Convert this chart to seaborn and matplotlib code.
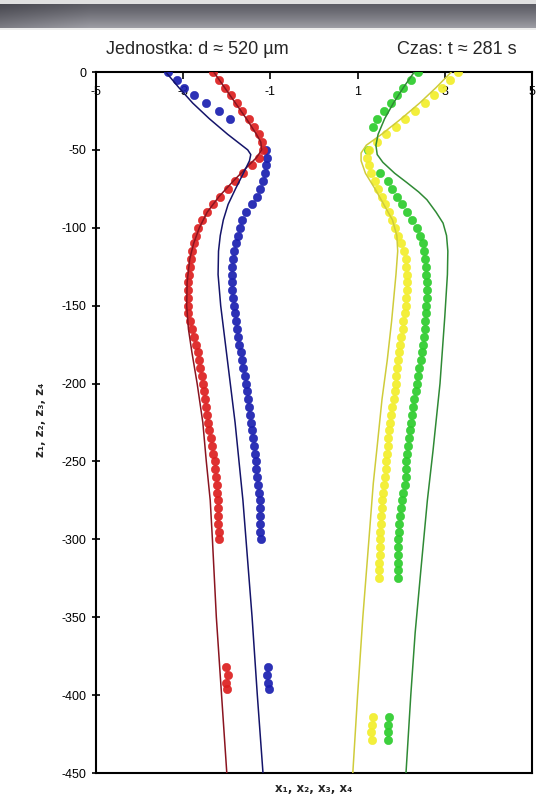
import numpy as np
import pandas as pd
import matplotlib
matplotlib.use("Agg")
import matplotlib.pyplot as plt
import seaborn as sns

nan = np.nan

# measured depths for the x1 / x2 profiles
depth_rb = [0, -5, -10, -15, -20, -25, -30, -35, -40, -45, -50, -55, -60, -65, -70,
            -75, -80, -85, -90, -95, -100, -105, -110, -115, -120, -125, -130, -135,
            -140, -145, -150, -155, -160, -165, -170, -175, -180, -185, -190, -195,
            -200, -205, -210, -215, -220, -225, -230, -235, -240, -245, -250, -255,
            -260, -265, -270, -275, -280, -285, -290, -295, -300,
            -382, -387, -392, -396]

x1_meas = [-2.32, -2.19, -2.05, -1.91, -1.77, -1.64, -1.50, -1.37, -1.27, -1.20, -1.17,
           -1.26, -1.43, -1.63, -1.81, -1.98, -2.15, -2.31, -2.46, -2.58, -2.66, -2.71,
           -2.75, -2.79, -2.82, -2.84, -2.87, -2.88, -2.90, -2.90, -2.89, -2.88, -2.84,
           -2.79, -2.75, -2.71, -2.67, -2.64, -2.61, -2.58, -2.55, -2.53, -2.50, -2.47,
           -2.45, -2.42, -2.40, -2.37, -2.34, -2.31, -2.28, -2.26, -2.24, -2.23, -2.22,
           -2.21, -2.21, -2.20, -2.20, -2.19, -2.19,
           -2.02, -1.98, -2.01, -1.99]

x2_meas = [-3.35, -3.15, -2.98, -2.76, -2.47, -2.19, -1.93, nan, nan, nan, -1.10,
           -1.07, -1.09, -1.12, -1.17, -1.23, -1.30, -1.42, -1.55, -1.64, -1.70, -1.74,
           -1.79, -1.83, -1.85, -1.87, -1.88, -1.88, -1.87, -1.85, -1.83, -1.81, -1.79,
           -1.77, -1.74, -1.71, -1.68, -1.65, -1.62, -1.59, -1.56, -1.53, -1.51, -1.49,
           -1.46, -1.44, -1.42, -1.40, -1.38, -1.36, -1.34, -1.32, -1.30, -1.28, -1.26,
           -1.25, -1.24, -1.24, -1.23, -1.23, -1.22,
           -1.05, -1.07, -1.06, -1.04]

# measured depths for the x3 / x4 profiles
depth_yg = [0, -5, -10, -15, -20, -25, -30, -35, -40, -45, -50, -55, -60, -65, -70,
            -75, -80, -85, -90, -95, -100, -105, -110, -115, -120, -125, -130, -135,
            -140, -145, -150, -155, -160, -165, -170, -175, -180, -185, -190, -195,
            -200, -205, -210, -215, -220, -225, -230, -235, -240, -245, -250, -255,
            -260, -265, -270, -275, -280, -285, -290, -295, -300, -305, -310, -315,
            -320, -325,
            -414, -419, -424, -429]

x3_meas = [3.30, 3.13, 2.94, 2.75, 2.55, 2.31, 2.08, 1.87, 1.66, 1.45, 1.27, 1.22, 1.25,
           1.31, 1.39, 1.47, 1.55, 1.63, 1.71, 1.79, 1.86, 1.93, 2.00, 2.06, 2.10, 2.12,
           2.13, 2.13, 2.13, 2.12, 2.11, 2.08, 2.05, 2.03, 2.00, 1.98, 1.96, 1.93, 1.91,
           1.89, 1.87, 1.85, 1.83, 1.80, 1.77, 1.74, 1.71, 1.70, 1.69, 1.67, 1.66, 1.64,
           1.62, 1.60, 1.58, 1.56, 1.55, 1.54, 1.53, 1.52, 1.52, 1.51, 1.51, 1.50, 1.50,
           1.50,
           1.35, 1.33, 1.31, 1.32]

x4_meas = [2.39, 2.22, 2.05, 1.91, 1.77, 1.60, 1.45, 1.35, nan, nan, 1.24, nan, nan,
           1.51, 1.69, 1.80, 1.91, 2.02, 2.13, 2.25, 2.36, 2.44, 2.50, 2.52, 2.55, 2.57,
           2.58, 2.59, 2.59, 2.59, 2.58, 2.57, 2.55, 2.54, 2.52, 2.51, 2.48, 2.45, 2.41,
           2.38, 2.36, 2.33, 2.30, 2.27, 2.25, 2.23, 2.21, 2.18, 2.16, 2.14, 2.12, 2.11,
           2.10, 2.08, 2.05, 2.02, 1.99, 1.97, 1.95, 1.94, 1.93, 1.93, 1.92, 1.93, 1.92,
           1.92,
           1.72, 1.70, 1.69, 1.70]

# model profiles
z1_model = [0, -10, -20, -30, -40, -45, -50, -55, -60, -70, -80, -90, -100, -110, -120,
            -135, -150, -165, -180, -200, -225, -250, -275, -300, -350, -400, -450]
x1_model = [-2.30, -2.05, -1.80, -1.55, -1.32, -1.22, -1.20, -1.32, -1.50, -1.85, -2.18,
            -2.45, -2.63, -2.76, -2.85, -2.91, -2.92, -2.88, -2.80, -2.68, -2.55, -2.47,
            -2.38, -2.33, -2.24, -2.12, -2.00]

z2_model = [0, -10, -20, -30, -40, -45, -50, -53, -57, -65, -75, -85, -95, -105, -115,
            -130, -150, -175, -200, -225, -250, -275, -300, -350, -400, -450]
x2_model = [-3.40, -3.10, -2.78, -2.40, -1.98, -1.75, -1.52, -1.45, -1.48, -1.62, -1.80,
            -1.97, -2.08, -2.15, -2.19, -2.20, -2.14, -2.03, -1.92, -1.81, -1.72, -1.63,
            -1.56, -1.42, -1.30, -1.17]

z3_model = [0, -10, -20, -30, -40, -47, -52, -57, -65, -75, -85, -95, -105, -115, -130,
            -160, -185, -210, -240, -264, -300, -350, -400, -450]
x3_model = [3.15, 2.80, 2.42, 2.00, 1.55, 1.20, 1.08, 1.08, 1.18, 1.40, 1.60, 1.80, 1.90,
            1.92, 1.88, 1.78, 1.68, 1.56, 1.45, 1.36, 1.26, 1.12, 1.00, 0.89]

z4_model = [0, -10, -20, -30, -40, -47, -53, -58, -65, -71, -77, -82, -90, -97, -105,
            -115, -130, -157, -200, -243, -275, -320, -360, -400, -450]
x4_model = [2.30, 2.05, 1.82, 1.62, 1.47, 1.42, 1.45, 1.58, 1.85, 2.13, 2.40, 2.59, 2.80,
            2.96, 3.04, 3.07, 3.06, 3.00, 2.89, 2.73, 2.60, 2.45, 2.32, 2.22, 2.11]

x_ticks = [-5, -3, -1, 1, 3, 5]
z_ticks = [0, -50, -100, -150, -200, -250, -300, -350, -400, -450]

title_left = "Jednostka: d ≈ 520 µm"
title_right = "Czas: t ≈ 281 s"
x_label = "x₁, x₂, x₃, x₄"
z_label = "z₁, z₂, z₃, z₄"

marker_colors = {"x1": "#dd1f1f", "x2": "#1a1fb0", "x3": "#f2ee2a", "x4": "#2ccc2c"}
line_colors = {"x1": "#8a1420", "x2": "#14146a", "x3": "#cfcc3a", "x4": "#2f8a35"}

sns.set_style("white")
plt.rcParams["font.family"] = ["Liberation Sans", "DejaVu Sans"]
plt.rcParams["axes.unicode_minus"] = False

W, H = 536, 800
fig = plt.figure(figsize=(W / 100, H / 100), dpi=100)
fig.patch.set_facecolor("white")

# dark gradient banner across the top
band_h = 30
rows = np.linspace(0, 1, band_h)[:, None]
cols = np.linspace(0, 1, W)[None, :]
base = 0.34 + 0.30 * rows ** 1.3
shade = base * (0.80 + 0.20 * np.clip(cols * 6, 0, 1))
img = np.repeat(shade[:, :, None], 3, axis=2)
img[..., 2] += 0.03
img[:4] = 0.88
img[-2:] = 0.93
banner = fig.add_axes([0, 1 - band_h / H, 1, band_h / H])
banner.imshow(np.clip(img, 0, 1), aspect="auto", interpolation="bilinear")
banner.axis("off")

ax = fig.add_axes([96 / W, 27 / H, 436 / W, 701 / H])

# measured profiles, blue first so red sits over it at the crossing
series = [("x2", x2_meas, depth_rb), ("x1", x1_meas, depth_rb),
          ("x4", x4_meas, depth_yg), ("x3", x3_meas, depth_yg)]
for name, xv, zv in series:
    df = pd.DataFrame({"x": xv, "z": zv}).dropna()
    sns.scatterplot(data=df, x="x", y="z", ax=ax, color=marker_colors[name],
                    s=36, marker="o", edgecolor=marker_colors[name], linewidth=0.4,
                    alpha=0.92, zorder=3, legend=False)

# model curves on top of the measured points
models = [("x1", x1_model, z1_model), ("x2", x2_model, z2_model),
          ("x3", x3_model, z3_model), ("x4", x4_model, z4_model)]
for name, xv, zv in models:
    df = pd.DataFrame({"x": xv, "z": zv})
    sns.lineplot(data=df, x="x", y="z", ax=ax, sort=False, estimator=None,
                 color=line_colors[name], linewidth=1.1, zorder=4, legend=False)

ax.set_xlim(-5, 5)
ax.set_ylim(-450, 0)
ax.set_xticks(x_ticks)
ax.set_xticklabels([str(t) for t in x_ticks])
ax.set_yticks(z_ticks)
ax.set_yticklabels([str(t) for t in z_ticks])
ax.xaxis.set_ticks_position("top")
ax.tick_params(axis="x", top=True, bottom=False, labeltop=True, labelbottom=False,
               direction="in", length=5, width=1.2, pad=-19, labelsize=9,
               colors="black")
ax.tick_params(axis="y", left=True, direction="inout", length=6, width=1.2, pad=4,
               labelsize=9, colors="black")
for sp in ax.spines.values():
    sp.set_visible(True)
    sp.set_color("black")
    sp.set_linewidth(1.5)

ax.set_xlabel("")
ax.set_ylabel("")
fig.text(314 / W, 1 - 789 / H, x_label, ha="center", va="center",
         fontsize=8.5, fontweight="bold", family=["DejaVu Sans"])
fig.text(40 / W, 1 - 420 / H, z_label, ha="center", va="center",
         rotation=90, fontsize=8.5, fontweight="bold", family=["DejaVu Sans"])

fig.text(197 / W, 1 - 50 / H, title_left, ha="center", va="center", fontsize=13,
         family=["Liberation Sans", "DejaVu Sans"])
fig.text(457 / W, 1 - 50 / H, title_right, ha="center", va="center", fontsize=13,
         family=["Liberation Sans", "DejaVu Sans"])

fig.savefig("out.png", dpi=100, facecolor="white")
